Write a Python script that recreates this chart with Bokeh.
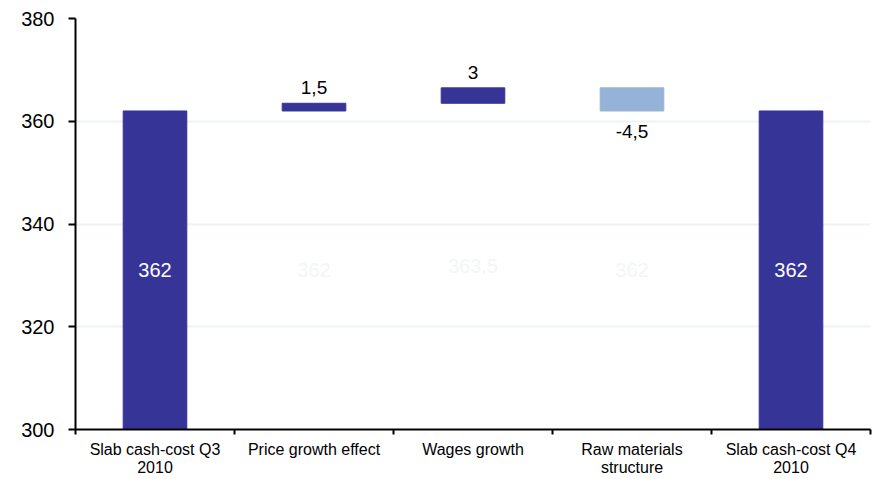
from bokeh.plotting import figure
from bokeh.models import ColumnDataSource, Range1d, FixedTicker, LabelSet
from bokeh.core.properties import value
from bokeh.embed import file_html
from bokeh.resources import INLINE

# ---- data ----
categories = ["Slab cash-cost Q3\n2010", "Price growth effect", "Wages growth",
              "Raw materials\nstructure", "Slab cash-cost Q4\n2010"]
start_total = 362
changes = [1.5, 3, -4.5]
end_total = 362
y_ticks = [300, 320, 340, 360, 380]

DARK = "#363497"
LIGHT = "#95B3D7"
FONT = "Liberation Sans"

def fmt(v):
    return f"{v:g}".replace(".", ",")

# ---- build waterfall geometry from data ----
x = [i + 0.5 for i in range(len(categories))]
bottoms, tops, colors = [], [], []
bottoms.append(y_ticks[0]); tops.append(start_total); colors.append(DARK)
run = start_total
bases = []
for c in changes:
    lo, hi = min(run, run + c), max(run, run + c)
    bottoms.append(lo); tops.append(hi)
    colors.append(DARK if c >= 0 else LIGHT)
    bases.append(lo)
    run += c
bottoms.append(y_ticks[0]); tops.append(end_total); colors.append(DARK)

bars = ColumnDataSource(dict(x=x, bottom=bottoms, top=tops, color=colors))

p = figure(width=875, height=479, output_backend="svg", toolbar_location=None,
           x_range=Range1d(0, len(categories)), y_range=Range1d(y_ticks[0], y_ticks[-1]),
           min_border_left=75, min_border_right=5, min_border_top=18, min_border_bottom=10)
p.outline_line_color = None
p.background_fill_color = "white"

p.vbar(x="x", bottom="bottom", top="top", width=0.4, color="color", source=bars)

# total labels (white, inside)
tot_src = ColumnDataSource(dict(
    x=[x[0], x[-1]],
    y=[(y_ticks[0] + start_total) / 2, (y_ticks[0] + end_total) / 2],
    t=[fmt(start_total), fmt(end_total)]))
p.add_layout(LabelSet(x="x", y="y", text="t", source=tot_src, text_color="white",
                      text_font=value(FONT), text_font_size="20px",
                      text_align="center", text_baseline="middle"))

# invisible base labels (near white)
base_src = ColumnDataSource(dict(
    x=x[1:-1], y=[(y_ticks[0] + b) / 2 for b in bases], t=[fmt(b) for b in bases]))
p.add_layout(LabelSet(x="x", y="y", text="t", source=base_src, text_color="#F3F6F6",
                      text_font=value(FONT), text_font_size="20px",
                      text_align="center", text_baseline="middle"))

# change labels
pos = [(x[i + 1], tops[i + 1], fmt(c)) for i, c in enumerate(changes) if c >= 0]
neg = [(x[i + 1], bottoms[i + 1], fmt(c)) for i, c in enumerate(changes) if c < 0]
pos_src = ColumnDataSource(dict(x=[a[0] for a in pos], y=[a[1] for a in pos], t=[a[2] for a in pos]))
neg_src = ColumnDataSource(dict(x=[a[0] for a in neg], y=[a[1] for a in neg], t=[a[2] for a in neg]))
p.add_layout(LabelSet(x="x", y="y", text="t", source=pos_src, text_color="black",
                      text_font=value(FONT), text_font_size="19px", y_offset=9,
                      text_align="center", text_baseline="bottom"))
p.add_layout(LabelSet(x="x", y="y", text="t", source=neg_src, text_color="black",
                      text_font=value(FONT), text_font_size="19px", y_offset=-14,
                      text_align="center", text_baseline="top"))

# y axis
p.yaxis.ticker = FixedTicker(ticks=y_ticks)
p.yaxis.axis_line_color = "black"
p.yaxis.axis_line_width = 2
p.yaxis.major_tick_line_color = "black"
p.yaxis.major_tick_line_width = 2
p.yaxis.major_tick_out = 7
p.yaxis.major_tick_in = 0
p.yaxis.minor_tick_line_color = None
p.yaxis.major_label_text_font = FONT
p.yaxis.major_label_text_font_size = "20px"
p.yaxis.major_label_text_color = "black"
p.yaxis.major_label_standoff = 14

# x axis: labels at centres, tick marks at boundaries
p.xaxis.ticker = FixedTicker(ticks=x, minor_ticks=list(range(len(categories) + 1)))
p.xaxis.major_label_overrides = {xx: c for xx, c in zip(x, categories)}
p.xaxis.axis_line_color = "black"
p.xaxis.axis_line_width = 2
p.xaxis.major_tick_line_color = None
p.xaxis.major_tick_out = 0
p.xaxis.major_tick_in = 0
p.xaxis.minor_tick_line_color = "black"
p.xaxis.minor_tick_line_width = 2
p.xaxis.minor_tick_out = 5
p.xaxis.minor_tick_in = 0
p.xaxis.major_label_text_font = FONT
p.xaxis.major_label_text_font_size = "16px"
p.xaxis.major_label_text_color = "black"
p.xaxis.major_label_text_line_height = 1.1
p.xaxis.major_label_standoff = 6

# grid
p.xgrid.grid_line_color = None
p.ygrid.ticker = FixedTicker(ticks=y_ticks)
p.ygrid.grid_line_color = "#EEF3F3"
p.ygrid.grid_line_width = 2

open("out.html", "w").write(file_html(p, INLINE))
